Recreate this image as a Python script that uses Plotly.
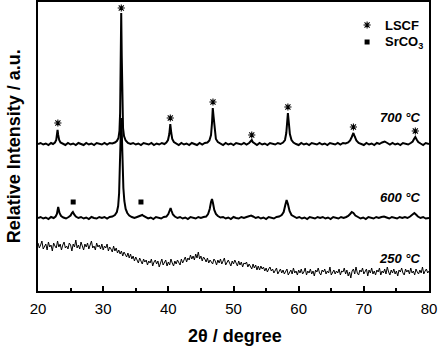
import numpy as np
import plotly.graph_objects as go

# ---- data (2θ in degrees, intensity in arbitrary units, already stacked) ----
t700 = [20.0,20.4,20.8,21.2,21.6,22.0,22.3,22.6,22.8,22.9,23.0,23.1,23.25,23.45,23.8,24.2,24.6,25.0,25.4,25.8,
        26.2,26.6,27.0,27.4,27.8,28.2,28.6,29.0,29.4,29.8,30.2,30.6,31.0,31.4,31.8,32.1,32.35,32.5,32.6,32.7,
        32.77,32.85,32.95,33.05,33.2,33.45,33.8,34.2,34.6,35.0,35.4,35.8,36.2,36.6,37.0,37.4,37.8,38.2,38.6,39.0,
        39.4,39.7,39.95,40.15,40.3,40.45,40.6,40.85,41.2,41.6,42.0,42.4,42.8,43.2,43.6,44.0,44.4,44.8,45.2,45.6,
        46.0,46.3,46.55,46.7,46.82,46.95,47.1,47.3,47.6,48.0,48.4,48.8,49.2,49.6,50.0,50.4,50.8,51.2,51.6,52.0,
        52.4,52.65,52.8,52.95,53.2,53.6,54.0,54.4,54.8,55.2,55.6,56.0,56.4,56.8,57.2,57.6,57.9,58.1,58.22,58.35,
        58.48,58.65,58.9,59.2,59.6,60.0,60.4,60.8,61.2,61.6,62.0,62.4,62.8,63.2,63.6,64.0,64.4,64.8,65.2,65.6,
        66.0,66.4,66.8,67.2,67.6,67.9,68.15,68.4,68.6,68.85,69.2,69.6,70.0,70.4,70.8,71.2,71.6,72.0,72.4,72.8,
        73.2,73.6,74.0,74.4,74.8,75.2,75.6,76.0,76.4,76.8,77.2,77.5,77.7,77.9,78.1,78.35,78.7,79.1,79.5,80.0]
i700 = [147,148,146.5,147.5,146,148,147,148.5,151,155,161,156,151,148.5,147,146,148,146.5,147.5,146,
        148,147,146,148,146.5,147.5,146,148,147,146.5,148,146.5,148,147.5,148.5,150,153,160,178,250,
        278,235,180,163,155,150.5,148,147,148,146.5,147.5,146,148,147,146.5,148,146,147.5,146.5,148,
        147,148.5,151,157,167,158,152,149,147.5,146,148,146.5,147.5,146,148,147,146,148,146.5,148,
        148.5,150.5,156,168,183,174,160,152,149,147.5,146,148,146.5,147.5,146,148,147,146.5,148,146.5,
        148,149.5,151,149,147.5,146,148,146.5,147.5,146,148,147,146.5,148,147,148.5,151,158,170,178,
        169,157,151,148.5,147,146,148,146.5,147.5,146,148,147,146.5,148,146.5,147.5,146,148,147,146.5,
        148,146.5,148,147.5,148.5,150.5,154,158,154.5,150.5,148,147,146,148,146.5,147.5,146,148,147,148.5,
        149.5,148,146.5,148,146.5,147.5,146,148,147,146.5,148,149.5,152,154,151.5,149,147.5,146,148,147]

t600 = [20.0,20.4,20.8,21.2,21.6,22.0,22.4,22.7,22.9,23.1,23.3,23.55,23.9,24.3,24.7,25.0,25.2,25.35,25.55,25.8,
        26.2,26.6,27.0,27.4,27.8,28.2,28.6,29.0,29.4,29.8,30.2,30.6,31.0,31.4,31.8,32.1,32.3,32.45,32.58,32.7,
        32.77,32.85,32.98,33.1,33.25,33.45,33.7,34.0,34.4,34.8,35.2,35.5,35.8,36.0,36.2,36.5,36.9,37.3,37.7,38.1,
        38.5,38.9,39.3,39.7,40.0,40.2,40.35,40.5,40.7,41.0,41.4,41.8,42.2,42.6,43.0,43.4,43.8,44.2,44.6,45.0,
        45.4,45.8,46.1,46.35,46.55,46.7,46.85,47.05,47.3,47.6,48.0,48.4,48.8,49.2,49.6,50.0,50.4,50.8,51.2,51.6,
        52.0,52.4,52.7,53.0,53.4,53.8,54.2,54.6,55.0,55.4,55.8,56.2,56.6,57.0,57.4,57.7,57.95,58.15,58.35,58.6,
        58.9,59.3,59.7,60.1,60.5,60.9,61.3,61.7,62.1,62.5,62.9,63.3,63.7,64.1,64.5,64.9,65.3,65.7,66.1,66.5,
        66.9,67.3,67.6,67.9,68.15,68.4,68.7,69.1,69.5,69.9,70.3,70.7,71.1,71.5,71.9,72.3,72.7,73.1,73.5,73.9,
        74.3,74.7,75.1,75.5,75.9,76.3,76.7,77.1,77.45,77.75,78.0,78.3,78.7,79.1,79.5,80.0]
i600 = [73,74,72.5,73.5,72,74,73,74.5,77,84,78,75,73.5,72.5,74,75.5,78,79,76.5,74.5,
        73,74,72.5,73.5,72,74,73,72.5,74,73,74,72.5,74,74.5,76,79,85,98,130,168,
        173,160,128,103,90,82,78,75.5,74,73,74,74.5,75.5,76,75,74,72.5,73.5,72,74,
        73,72.5,74,74.5,77,81,83,80,76.5,74.5,73,74,72.5,73.5,72,74,73,72.5,74,73,
        74,74.5,77,82,89,92,88,81,77,75,73.5,74,72.5,73.5,72,74,73,72.5,74,73,
        74,74.5,75.5,74.5,73,74,72.5,73.5,72,74,73,72.5,74,74.5,76,79,86,91,87,80,
        76,74.5,73,74,72.5,73.5,72,74,73,72.5,74,73,74,72.5,73.5,72,74,73,72.5,74,
        73,74,75,77,79,78,75.5,74,72.5,73.5,72,74,73,72.5,74,73,74,74.5,73.5,72.5,
        74,73,72.5,74,73,74,73,74.5,76,78,76.5,74.5,73,74,72.5,73]

t250_start, t250_step = 20.0, 0.2
i250 = [48,43,46,50,42,45,47,41,49,44,
        46,40,48,45,43,50,44,47,41,46,
        49,43,45,42,48,46,40,47,44,51,
        43,46,42,49,45,41,47,44,48,42,
        46,50,43,45,41,48,44,46,42,47,
        41,45,43,47,40,44,42,39,45,40,
        43,38,41,37,40,35,39,36,34,38,
        33,37,32,35,30,34,31,28,33,30,
        27,32,29,31,26,30,28,32,25,29,
        31,27,30,24,29,32,26,28,31,25,
        29,26,32,28,25,30,27,31,29,26,
        32,28,31,34,29,33,31,36,32,35,
        31,37,33,39,32,35,30,34,32,29,
        33,28,31,29,27,32,30,26,31,28,
        32,27,30,33,26,29,31,28,25,30,
        27,31,28,25,30,26,29,24,28,27,
        29,24,27,25,22,27,23,26,21,25,
        21,25,22,24,20,23,19,22,24,20,
        22,18,21,23,17,20,22,18,21,17,
        20,22,16,19,21,17,23,18,20,16,
        21,18,22,17,19,23,16,20,18,22,
        17,20,15,21,19,23,18,16,21,19,
        22,17,20,18,24,16,19,21,17,20,
        18,22,16,20,19,23,17,21,15,19,
        13,20,22,17,24,18,16,21,19,23,
        17,20,22,15,21,18,23,17,20,16,
        21,19,23,16,20,18,22,17,24,19,
        16,21,18,22,17,20,15,21,19,23,
        18,16,22,19,21,17,23,18,20,16,
        22,19,17,21,18,24,17,20,22,18,
        20]
t250 = np.round(t250_start + t250_step * np.arange(len(i250)), 2)

# phase markers
lscf_x = [23.05, 32.78, 40.3, 46.85, 52.8, 58.35, 68.4, 77.9]
lscf_y = [168, 283, 173, 189, 156, 184, 164, 160]
srco3_x = [25.4, 35.8]
srco3_y = [89, 89]

labels = ["700 °C", "600 °C", "250 °C"]
label_y = [174, 94, 33]

FONT = "Liberation Sans, Arial, sans-serif"

fig = go.Figure()
fig.add_trace(go.Scatter(x=t250, y=i250, mode="lines", line=dict(color="black", width=1)))
fig.add_trace(go.Scatter(x=t600, y=i600, mode="lines", line=dict(color="black", width=2)))
fig.add_trace(go.Scatter(x=t700, y=i700, mode="lines", line=dict(color="black", width=2)))
fig.add_trace(go.Scatter(x=lscf_x + [70.5], y=lscf_y + [266], mode="markers",
                         marker=dict(symbol="asterisk", size=6, color="black",
                                     line=dict(color="black", width=1.1))))
fig.add_trace(go.Scatter(x=srco3_x + [70.5], y=srco3_y + [249], mode="markers",
                         marker=dict(symbol="square", size=5, color="black")))

fig.add_annotation(x=72.9, y=266, text="<b>LSCF</b>", showarrow=False, xanchor="left",
                   font=dict(family=FONT, size=13, color="black"))
fig.add_annotation(x=72.9, y=249, text="<b>SrCO<sub>3</sub></b>", showarrow=False, xanchor="left",
                   font=dict(family=FONT, size=13, color="black"))
for lab, ly in zip(labels, label_y):
    fig.add_annotation(x=79.1, y=ly, text="<b><i>" + lab + "</i></b>", showarrow=False,
                       xanchor="right", font=dict(family=FONT, size=13, color="black"))

# axis titles as paper-positioned text
fig.add_annotation(xref="paper", yref="paper", x=0.505, y=-0.157, text="<b>2θ / degree</b>",
                   showarrow=False, xanchor="center", yanchor="middle",
                   font=dict(family=FONT, size=18, color="black"))
fig.add_annotation(xref="paper", yref="paper", x=-0.062, y=0.5, text="<b>Relative Intensity / a.u.</b>",
                   showarrow=False, xanchor="center", yanchor="middle", textangle=-90,
                   font=dict(family=FONT, size=18, color="black"))

fig.update_layout(
    width=439, height=349,
    margin=dict(l=38, r=10, t=2, b=58, autoexpand=False),
    paper_bgcolor="white", plot_bgcolor="white",
    showlegend=False,
    font=dict(family=FONT, color="black"),
)
fig.update_xaxes(range=[20, 80], dtick=10, tick0=20, ticks="inside", ticklen=5, tickwidth=2,
                 tickcolor="black", showline=True, linewidth=2, linecolor="black", mirror=True,
                 showgrid=False, zeroline=False, tickfont=dict(size=15, family=FONT),
                 ticklabelstandoff=3, automargin=False,
                 minor=dict(dtick=5, ticks="inside", ticklen=3, tickwidth=2, tickcolor="black"))
fig.update_yaxes(range=[0, 289], showticklabels=False, ticks="", showline=True, linewidth=2,
                 linecolor="black", mirror=True, showgrid=False, zeroline=False, automargin=False)

fig.write_html("out.html", config={"displayModeBar": False},
               post_script="document.body.style.margin='0px';")
